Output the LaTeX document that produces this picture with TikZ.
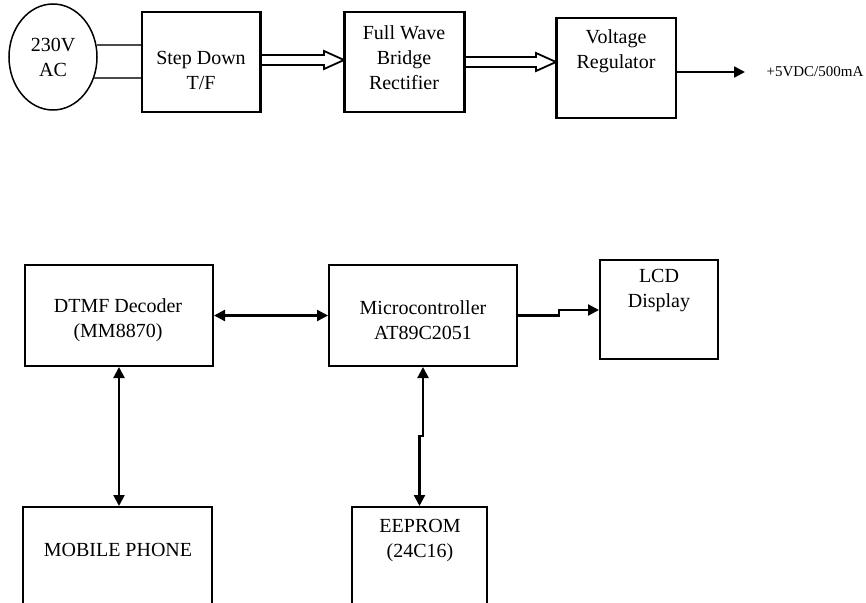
\documentclass[tikz,border=0pt]{standalone}
\usepackage{fontspec}
\setmainfont{Liberation Serif}
\usetikzlibrary{arrows.meta,calc,shapes.geometric}
\begin{document}
\begin{tikzpicture}[x=1pt,y=-1pt,
  box/.style={draw,line width=2pt,rectangle,inner sep=0pt},
  txt/.style={align=center,font=\fontsize{20}{25}\selectfont,inner sep=0pt},
  conn/.style={line width=2.2pt},
  arr/.style={conn,-{Triangle[length=11pt,width=11pt]}},
  barr/.style={conn,{Triangle[length=11pt,width=11pt]}-{Triangle[length=11pt,width=11pt]}},
  hollow/.style={draw,line width=1.8pt,fill=white,line join=miter}
]
\useasboundingbox (0,0) rectangle (866,602);
\clip (0,0) rectangle (866,602);

% top row
\node[draw,line width=1.5pt,ellipse,minimum width=88pt,minimum height=106pt,inner sep=0pt,
      align=center,font=\fontsize{20}{25}\selectfont] (ac) at (53,57) {230V\\AC};
\node[box,minimum width=118pt,minimum height=100pt] (sd) at (201,62) {};
\node[txt] (sdt) at (201,70) {Step Down\\T/F};
\node[box,minimum width=119pt,minimum height=100pt] (fw) at (404.5,62) {};
\node[txt] (fwt) at (404,58) {Full Wave\\Bridge\\Rectifier};
\node[box,minimum width=119pt,minimum height=100pt] (vr) at (616.5,68) {};
\node[txt] (vrt) at (616,51) {Voltage\\Regulator};
\node[font=\fontsize{15}{18}\selectfont,inner sep=0pt] (lbl) at (815,72) {+5VDC/500mA};
\coordinate (out) at (745,72);

% AC to transformer
\draw[line width=2.4pt,gray!60!black] (ac.15.6) -- (ac.15.6 -| sd.west);
\draw[line width=2.4pt,gray!60!black] (ac.-27.5) -- (ac.-27.5 -| sd.west);

% hollow arrows
\coordinate (a1) at ($(sd.east)+(0,-2)$);
\coordinate (t1) at (a1 -| fw.west);
\draw[hollow] ($(a1)+(0,-5)$) -- ($(t1)+(-20,-5)$) -- ($(t1)+(-20,-9)$) -- (t1)
  -- ($(t1)+(-20,9)$) -- ($(t1)+(-20,5)$) -- ($(a1)+(0,5)$) -- cycle;
\coordinate (a2) at (fw.east);
\coordinate (t2) at (a2 -| vr.west);
\draw[hollow] ($(a2)+(0,-5)$) -- ($(t2)+(-20,-5)$) -- ($(t2)+(-20,-9)$) -- (t2)
  -- ($(t2)+(-20,9)$) -- ($(t2)+(-20,5)$) -- ($(a2)+(0,5)$) -- cycle;
\draw[box] (sd.north east) -- (sd.south east);
\draw[box] (fw.north west) -- (fw.south west);
\draw[box] (fw.north east) -- (fw.south east);
\draw[box] (vr.north west) -- (vr.south west);

\draw[arr] ($(vr.east)+(0,4)$) -- (out);

% bottom part
\node[box,minimum width=188pt,minimum height=101pt] (dtmf) at (119,315.5) {};
\node[txt] (dtmft) at (118,320) {DTMF Decoder\\(MM8870)};
\node[box,minimum width=188pt,minimum height=101pt] (mc) at (423,315.5) {};
\node[txt] (mct) at (423,320) {Microcontroller\\AT89C2051};
\node[box,minimum width=118pt,minimum height=99pt] (lcd) at (659,309.5) {};
\node[txt] (lcdt) at (659,291) {LCD\\Display};
\node[box,minimum width=189pt,minimum height=143pt] (mob) at (117.5,578.5) {};
\node[txt] (mobt) at (118,550) {MOBILE PHONE};
\node[box,minimum width=135pt,minimum height=143pt] (ee) at (419.5,578.5) {};
\node[txt] (eet) at (420,540) {EEPROM\\(24C16)};

\draw[barr] (dtmf.east) -- (mc.west);
\draw[arr] (mc.east) -- ++(41,0) |- ($(lcd.west)+(0,0.5)$);
\draw[barr] (dtmf.south) -- (dtmf.south |- mob.north);
\draw[barr] (mc.south) -- ++(0,69) -| (ee.north);
\end{tikzpicture}
\end{document}
